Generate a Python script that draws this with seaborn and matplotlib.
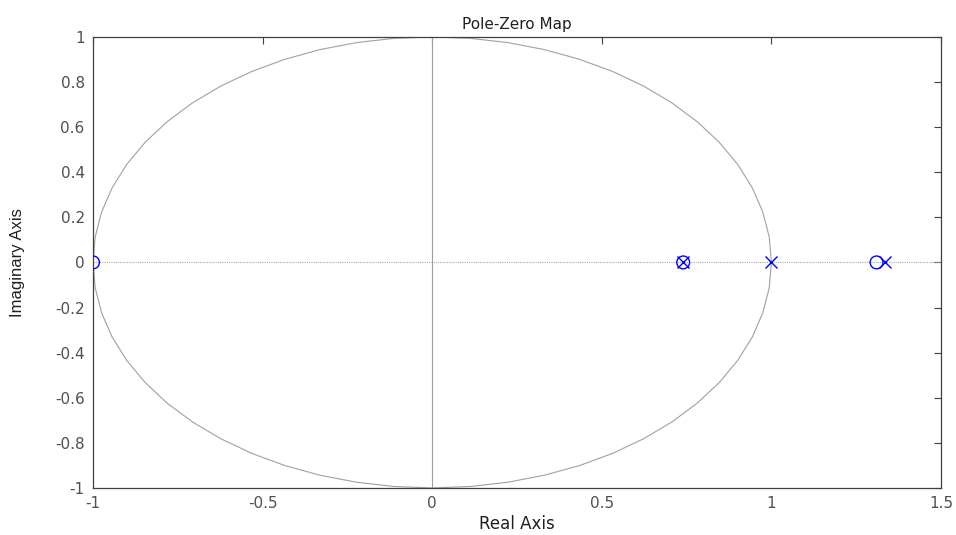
import numpy as np
import pandas as pd
import matplotlib
matplotlib.use("Agg")
from matplotlib import pyplot as plt
import seaborn as sns

# pole / zero locations
zeros_re = [-1.0, 0.74, 1.31]
zeros_im = [0.0, 0.0, 0.0]
poles_re = [0.74, 1.0, 1.335]
poles_im = [0.0, 0.0, 0.0]

x_ticks = [-1, -0.5, 0, 0.5, 1, 1.5]
x_labels = ['-1', '-0.5', '0', '0.5', '1', '1.5']
y_ticks = [-1, -0.8, -0.6, -0.4, -0.2, 0, 0.2, 0.4, 0.6, 0.8, 1]
y_labels = ['-1', '-0.8', '-0.6', '-0.4', '-0.2', '0', '0.2', '0.4', '0.6', '0.8', '1']

sns.set_theme(style='white')
plt.rcParams['font.family'] = ['DejaVu Sans']

fig = plt.figure(figsize=(9.56, 5.35), dpi=100)
ax = fig.add_axes([0.0973, 0.088, 0.887, 0.843])

# unit circle, coarse like matlab's
t = np.linspace(0, 2 * np.pi, 57)
circle = pd.DataFrame({'re': np.cos(t), 'im': np.sin(t)})
sns.lineplot(data=circle, x='re', y='im', sort=False, estimator=None,
             color='#a0a0a0', linewidth=0.8, ax=ax)

ax.axhline(0, color='#a8a8a8', linewidth=0.8, linestyle=(0, (1, 1)))
ax.axvline(0, color='#a0a0a0', linewidth=0.8)

zeros = pd.DataFrame({'re': zeros_re, 'im': zeros_im})
poles = pd.DataFrame({'re': poles_re, 'im': poles_im})
sns.scatterplot(data=zeros, x='re', y='im', marker='o', s=85,
                facecolor='none', edgecolor='#0000ff', linewidth=1.0, ax=ax, zorder=5)
sns.scatterplot(data=poles, x='re', y='im', marker='x', s=75,
                color='#0000ff', linewidth=1.0, ax=ax, zorder=5)

ax.set_xlim(-1, 1.5)
ax.set_ylim(-1, 1)
ax.set_xticks(x_ticks)
ax.set_xticklabels(x_labels)
ax.set_yticks(y_ticks)
ax.set_yticklabels(y_labels)
ax.tick_params(direction='in', length=5, width=0.8, color='#404040',
               top=True, right=True, labelsize=11, labelcolor='#505050', pad=6)
for s in ax.spines.values():
    s.set_color('#404040')
    s.set_linewidth(0.9)

ax.set_xlabel('Real Axis', fontsize=12, color='#202020', labelpad=3)
ax.set_ylabel('Imaginary Axis', fontsize=12, color='#202020',
              family=['Liberation Sans', 'DejaVu Sans'])
ax.yaxis.set_label_coords(-0.080, 0.5)
ax.set_title('Pole-Zero Map', fontsize=11, color='#202020', pad=6)

fig.savefig('out.png', dpi=100)
